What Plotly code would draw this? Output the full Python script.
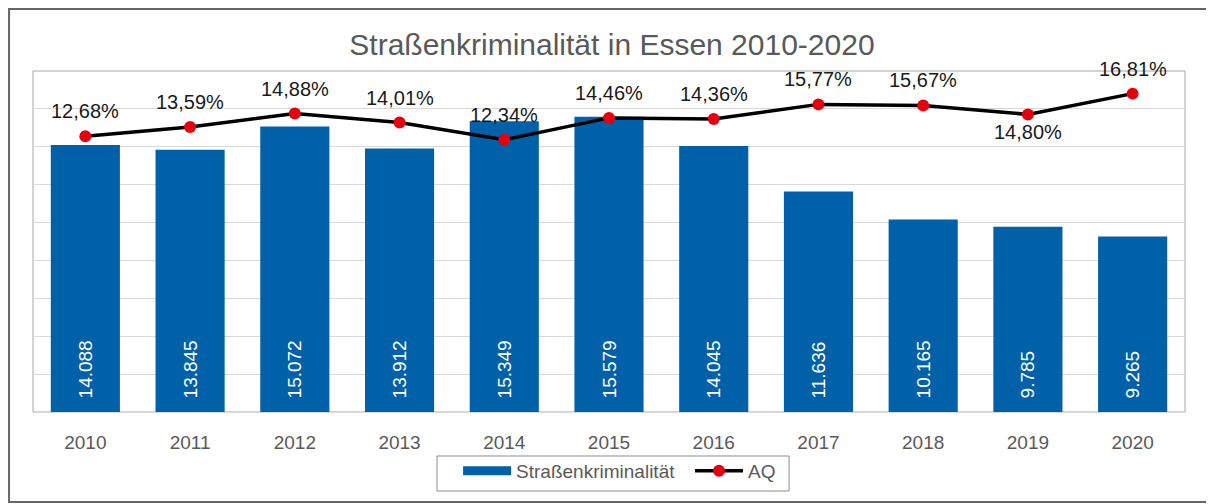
import plotly.graph_objects as go

years = ["2010", "2011", "2012", "2013", "2014", "2015", "2016", "2017", "2018", "2019", "2020"]
strassenkriminalitaet = [14088, 13845, 15072, 13912, 15349, 15579, 14045, 11636, 10165, 9785, 9265]
aq = [0.1268, 0.1359, 0.1488, 0.1401, 0.1234, 0.1446, 0.1436, 0.1577, 0.1567, 0.1480, 0.1681]
aq_label_below = [False] * 9 + [True, False]

FONT = "Liberation Sans, Arial, sans-serif"
GREY = "#595959"
BLUE = "#0061A8"

fig = go.Figure()
fig.add_trace(go.Bar(
    x=years, y=strassenkriminalitaet, name="Straßenkriminalität", showlegend=False,
    marker=dict(color=BLUE, line=dict(width=0)),
    texttemplate="\u00a0\u00a0%{y:,}", textposition="inside", insidetextanchor="start",
    textangle=-90, textfont=dict(color="white", size=19, family=FONT),
))
# legend proxy for the bar series (wide flat swatch as in the original)
fig.add_trace(go.Scatter(
    x=[None], y=[None], name="Straßenkriminalität\u00a0\u00a0", mode="lines",
    line=dict(color=BLUE, width=9), showlegend=True,
))
fig.add_trace(go.Scatter(
    x=years, y=aq, name="AQ", yaxis="y2", mode="lines+markers",
    line=dict(color="black", width=3.5),
    marker=dict(color="#E3000F", size=12),
    cliponaxis=False,
))

annotations = []
for i, (v, below) in enumerate(zip(aq, aq_label_below)):
    annotations.append(dict(
        x=i, y=v, xref="x", yref="y2", text=f"{v*100:.2f}%".replace(".", ","),
        showarrow=False, yanchor="middle", xanchor="center",
        yshift=-18 if below else 25,
        font=dict(size=20, color="#1a1a1a", family=FONT),
    ))

fig.update_layout(
    width=1214, height=504,
    margin=dict(l=25, r=37, t=63, b=100),
    paper_bgcolor="white", plot_bgcolor="white",
    separators=",.",
    font=dict(family=FONT, color=GREY, size=19),
    title=dict(text="Straßenkriminalität in Essen 2010-2020", x=0.4975, xanchor="center",
               y=0.9266, yanchor="middle", font=dict(size=30, color=GREY, family=FONT)),
    bargap=0.34,
    showlegend=True,
    legend=dict(orientation="h", x=0.369, xanchor="left", y=-0.117, yanchor="top",
                borderwidth=0, bgcolor="rgba(0,0,0,0)", font=dict(size=19, color=GREY),
                itemwidth=48, traceorder="normal"),
    xaxis=dict(type="category", range=[-0.5, len(years) - 0.5], showgrid=False,
               showline=True, linecolor="#d9d9d9", linewidth=1,
               ticks="outside", ticklen=13, tickcolor="rgba(0,0,0,0)",
               tickfont=dict(size=19, color=GREY)),
    yaxis=dict(range=[0, 18000], dtick=2000, showgrid=True, gridcolor="#d9d9d9",
               gridwidth=1, showticklabels=False, zeroline=False, showline=False),
    yaxis2=dict(range=[-0.14, 0.19], overlaying="y", side="right", visible=False,
                showgrid=False),
    annotations=annotations,
    shapes=[
        dict(type="rect", xref="paper", yref="paper", x0=0, x1=1, y0=0, y1=1,
             line=dict(color="#a6a6a6", width=1), layer="below"),
        dict(type="rect", xref="paper", yref="paper", x0=-0.0208, x1=1.04, y0=-0.264, y1=1.1818,
             line=dict(color="#666666", width=2), layer="below"),
        dict(type="rect", xref="paper", yref="paper", x0=0.3507, x1=0.6563, y0=-0.2317, y1=-0.129,
             line=dict(color="#8c8c8c", width=1), layer="below"),
    ],
)

fig.write_html("out.html")
